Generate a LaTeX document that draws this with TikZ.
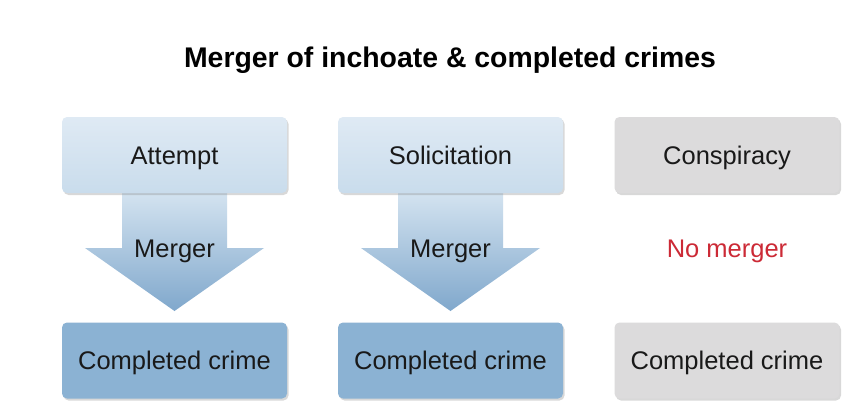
\documentclass[tikz,border=0pt]{standalone}
\usepackage{fontspec}
\setmainfont{Liberation Sans}
\usetikzlibrary{shadows,calc}
\definecolor{lbtop}{HTML}{DFEAF4}
\definecolor{lbbot}{HTML}{C9DCEC}
\definecolor{grayfill}{HTML}{DCDBDC}
\definecolor{donefill}{HTML}{8BB2D3}
\definecolor{artop}{HTML}{D6E5F1}
\definecolor{arbot}{HTML}{80A8CC}
\definecolor{nored}{HTML}{CC2A36}
\begin{document}
\begin{tikzpicture}[x=1pt,y=-1pt]
\useasboundingbox[fill=white] (0,0) rectangle (863,408);
\tikzset{
  txt/.style={font=\fontsize{25.5}{30}\selectfont, text height=18.3pt, text depth=0pt, inner sep=0pt},
  box/.style={txt, rounded corners=5pt, minimum width=225pt, minimum height=76pt,
    text=black!90,
    drop shadow={shadow xshift=1.5pt, shadow yshift=-2pt, opacity=0.3}},
  inchoate/.style={box, top color=lbtop, bottom color=lbbot},
  graybox/.style={box, fill=grayfill},
  donebox/.style={box, fill=donefill},
  arrowfill/.style={top color=artop, bottom color=arbot, draw=none},
  lbl/.style={txt, text=black!90}
}
\node[font=\bfseries\fontsize{28.4}{34}\selectfont, text height=20.3pt, text depth=0pt, inner sep=0pt] (title) at (450,57) {Merger of inchoate \& completed crimes};

% arrows first (behind boxes)
\coordinate (a1) at (174.5,193);
\coordinate (a2) at (450.5,193);
\foreach \c in {a1,a2}{
  \path[arrowfill] ($(\c)+(-52.5,-4)$) -- ($(\c)+(52.5,-4)$) -- ($(\c)+(52.5,55)$)
    -- ($(\c)+(89.5,55)$) -- ($(\c)+(0,118)$) -- ($(\c)+(-89.5,55)$)
    -- ($(\c)+(-52.5,55)$) -- cycle;
}

\node[inchoate] (att) at (174.5,155) {Attempt};
\node[inchoate] (sol) at (450.5,155) {Solicitation};
\node[graybox] (con) at (727,155) {Conspiracy};

\node[lbl] (m1) at ($(att.south)+(0,55)$) {Merger};
\node[lbl] (m2) at ($(sol.south)+(0,55)$) {Merger};
\node[lbl, text=nored] (m3) at ($(con.south)+(0,55)$) {No merger};

\node[donebox] (c1) at (174.5,360.5) {Completed crime};
\node[donebox] (c2) at (450.5,360.5) {Completed crime};
\node[graybox] (c3) at (727,360.5) {Completed crime};
\end{tikzpicture}
\end{document}
